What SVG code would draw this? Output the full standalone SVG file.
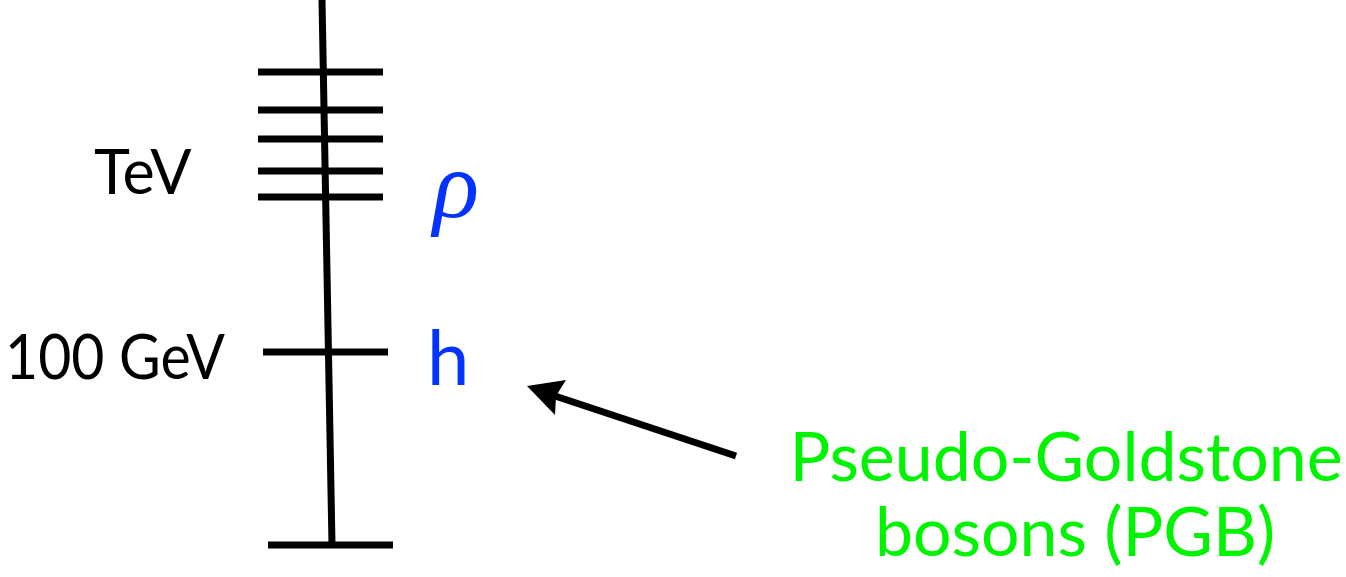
<svg xmlns="http://www.w3.org/2000/svg" width="1346" height="577" viewBox="0 0 1346 577">
<style>
.ln{stroke:#000;stroke-width:7;fill:none}
.lbl{font-family:Lato,"Open Sans",sans-serif;fill:#000}
.blue{fill:#0433ff}
.green{font-family:Lato,"Open Sans",sans-serif;fill:#00f400;font-size:68px;text-anchor:middle}
</style>
<g id="axis">
<line class="ln" x1="322" y1="0" x2="332" y2="545"/>
</g>
<g id="tev-levels">
<line class="ln" x1="258" y1="72" x2="383" y2="72"/>
<line class="ln" x1="258" y1="110" x2="383" y2="110"/>
<line class="ln" x1="258" y1="139" x2="383" y2="139"/>
<line class="ln" x1="258" y1="171" x2="383" y2="171"/>
<line class="ln" x1="258" y1="197" x2="383" y2="197"/>
<text class="lbl" x="94" y="194" font-size="61">TeV</text>
<text class="blue" x="433" y="217" font-family="'Liberation Serif',serif" font-style="italic" font-size="96">ρ</text>
</g>
<g id="h-level">
<line class="ln" x1="263" y1="352" x2="388" y2="352"/>
<text class="lbl" x="5" y="379" font-size="62" textLength="220" lengthAdjust="spacingAndGlyphs">100 GeV</text>
<text class="lbl blue" x="427" y="385" font-size="76">h</text>
</g>
<g id="bottom">
<line class="ln" x1="268" y1="545" x2="393" y2="545"/>
</g>
<g id="connectors">
<line x1="736" y1="456" x2="552" y2="395" stroke="#000" stroke-width="7"/>
<path d="M527,386 L566,380 L556,396 L555,415 Z" fill="#000"/>
</g>
<g id="pgb-label">
<text class="green" x="1066" y="481">Pseudo-Goldstone</text>
<text class="green" x="1075" y="556">bosons (PGB)</text>
</g>
</svg>
